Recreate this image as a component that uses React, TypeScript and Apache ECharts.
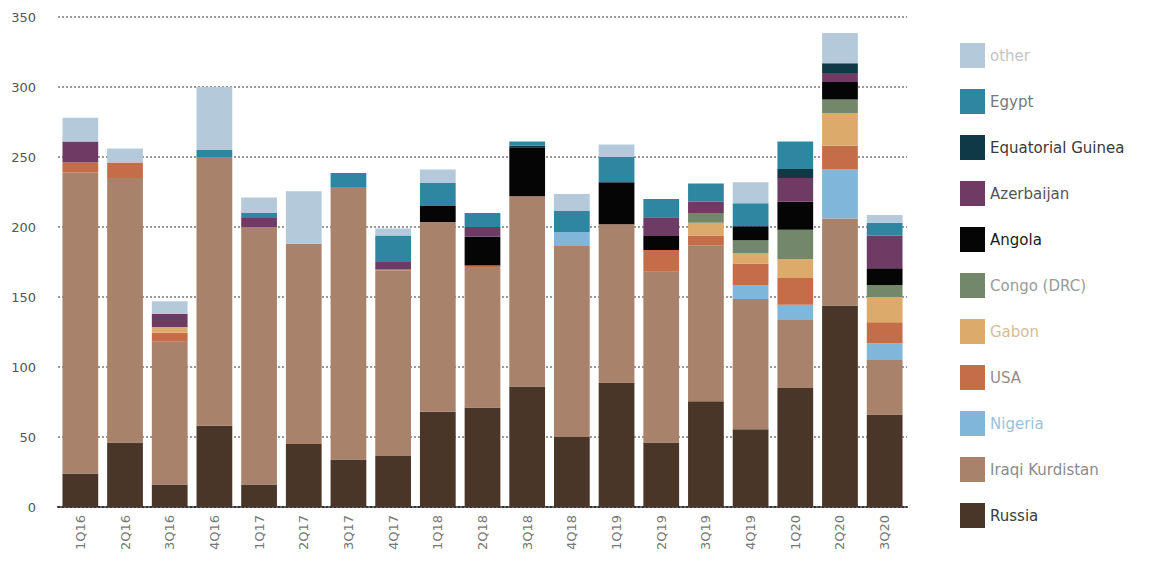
import React, { useEffect, useRef } from "react";
import * as echarts from "echarts";

const categories = ["1Q16","2Q16","3Q16","4Q16","1Q17","2Q17","3Q17","4Q17","1Q18","2Q18","3Q18","4Q18","1Q19","2Q19","3Q19","4Q19","1Q20","2Q20","3Q20"];

const russia =      [24, 46, 16, 58, 16, 45, 34, 36.5, 68, 71, 86, 50, 89, 46, 75.5, 55.5, 85, 144, 66];
const kurdistan =   [215, 189, 102, 192, 184, 143, 194.5, 132.5, 135.5, 100.5, 136, 136.5, 113, 122, 111.5, 93, 48.5, 62, 39];
const nigeria =     [0, 0, 0, 0, 0, 0, 0, 0, 0, 0, 0, 10, 0, 0, 0, 10, 11, 35, 12];
const usa =         [7, 11, 6.5, 0, 0, 0, 0, 1, 0, 1, 0, 0, 0, 15.5, 7, 15.5, 19, 17, 15];
const gabon =       [0, 0, 4, 0, 0, 0, 0, 0, 0, 0, 0, 0, 0, 0, 9, 7.5, 13.5, 23.5, 18];
const congo =       [0, 0, 0, 0, 0, 0, 0, 0, 0, 0, 0, 0, 0, 0, 7, 9, 21, 9.5, 8.5];
const angola =      [0, 0, 0, 0, 0, 0, 0, 0, 11.5, 20.5, 35, 0, 30, 10, 0, 10, 20, 12.5, 12];
const azerbaijan =  [15, 0, 9.5, 0, 6.5, 0, 0, 5, 0, 7, 0, 0, 0, 13.5, 8, 0, 17, 6.5, 23.5];
const eqGuinea =    [0, 0, 0, 0, 0, 0, 0, 0, 0, 0, 1, 0, 0, 0, 0, 0, 6.5, 7, 0];
const egypt =       [0, 0, 0, 5, 3.5, 0, 10, 19, 16.5, 10, 3, 15, 18, 13, 13, 16.5, 19.5, 0, 9];
const other =       [17, 10, 9, 45, 11, 37.5, 0, 5, 9.5, 0, 0, 12, 9, 0, 0, 15, 0, 21.5, 5.5];

const yTicks = [0, 50, 100, 150, 200, 250, 300, 350];

const seriesDefs = [
  { name: "Russia", data: russia, color: "#4a3628", text: "#3a3a3a" },
  { name: "Iraqi Kurdistan", data: kurdistan, color: "#a8826a", text: "#8a8a8a" },
  { name: "Nigeria", data: nigeria, color: "#80b6d9", text: "#9cc3dc" },
  { name: "USA", data: usa, color: "#c46d48", text: "#9a8a86" },
  { name: "Gabon", data: gabon, color: "#dcaa6a", text: "#d8bb98" },
  { name: "Congo (DRC)", data: congo, color: "#73886a", text: "#9a9a9a" },
  { name: "Angola", data: angola, color: "#050505", text: "#1a1a1a" },
  { name: "Azerbaijan", data: azerbaijan, color: "#6e3b64", text: "#555555" },
  { name: "Equatorial Guinea", data: eqGuinea, color: "#0f3944", text: "#3a3a3a" },
  { name: "Egypt", data: egypt, color: "#2e86a0", text: "#777777" },
  { name: "other", data: other, color: "#b4c9d9", text: "#c4c4c4" },
];

export default function App() {
  const ref = useRef<HTMLDivElement>(null);
  useEffect(() => {
    if (!ref.current) return;
    const chart = echarts.init(ref.current, null, { renderer: "svg" });
    const font = "DejaVu Sans, Verdana, sans-serif";
    chart.setOption({
      animation: false,
      backgroundColor: "#ffffff",
      textStyle: { fontFamily: font },
      grid: { left: 58, right: 244, top: 17, bottom: 61, containLabel: false },
      legend: {
        orient: "vertical",
        left: 955,
        top: 38,
        itemWidth: 25,
        itemHeight: 25,
        itemGap: 21,
        icon: "rect",
        selectedMode: false,
        data: [...seriesDefs].reverse().map((s) => ({
          name: s.name,
          textStyle: { color: s.text, fontSize: 15, fontFamily: font },
        })),
      },
      xAxis: {
        type: "category",
        data: categories,
        axisLine: { show: true, lineStyle: { color: "#333", type: "dotted", width: 2 } },
        axisTick: { show: false },
        axisLabel: { rotate: 90, color: "#777", fontSize: 13, margin: 8, fontFamily: font },
      },
      yAxis: {
        type: "value",
        min: 0,
        max: yTicks[yTicks.length - 1],
        interval: 50,
        axisLine: { show: false },
        axisTick: { show: false },
        axisLabel: { color: "#555", fontSize: 13, margin: 22, fontFamily: font },
        splitLine: { show: true, lineStyle: { color: "#999", type: "dotted", width: 2 } },
      },
      series: seriesDefs.map((s) => ({
        name: s.name,
        type: "bar",
        stack: "total",
        barCategoryGap: "20%",
        itemStyle: { color: s.color },
        data: s.data,
      })),
    });
    return () => chart.dispose();
  }, []);
  return (
    <div
      ref={ref}
      style={{ position: "fixed", left: 0, top: 0, width: 1151, height: 568 }}
    />
  );
}
